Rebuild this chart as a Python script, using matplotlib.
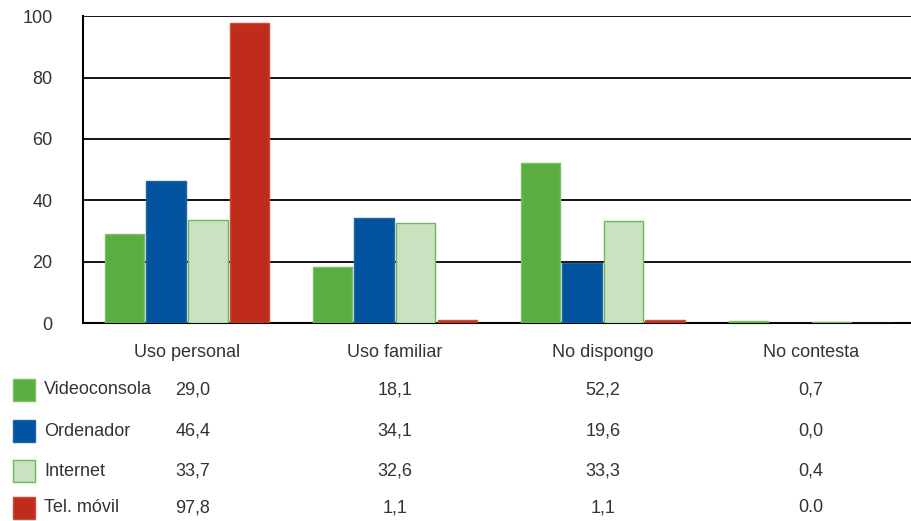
import numpy as np
import matplotlib.pyplot as plt
from matplotlib.patches import Rectangle

plt.rcParams['font.family'] = ['Liberation Sans', 'DejaVu Sans']

categories = ["Uso personal", "Uso familiar", "No dispongo", "No contesta"]
series_names = ["Videoconsola", "Ordenador", "Internet", "Tel. móvil"]
videoconsola = [29.0, 18.1, 52.2, 0.7]
ordenador = [46.4, 34.1, 19.6, 0.0]
internet = [33.7, 32.6, 33.3, 0.4]
movil = [97.8, 1.1, 1.1, 0.0]
table_text = [
    ["29,0", "18,1", "52,2", "0,7"],
    ["46,4", "34,1", "19,6", "0,0"],
    ["33,7", "32,6", "33,3", "0,4"],
    ["97,8", "1,1", "1,1", "0.0"],
]

faces = ["#5aae41", "#0153a0", "#cbe2c0", "#c02c1b"]
edges = ["#7cc065", "#1f64aa", "#6db85a", "#d04a3a"]
txt = "#333333"
fs = 13

fig = plt.figure(figsize=(9.12, 5.21), dpi=100)
ax = fig.add_axes([0.091, 0.38, 0.912, 0.589])

x = np.arange(len(categories))
w = 0.19
step = 0.2
for i, vals in enumerate([videoconsola, ordenador, internet, movil]):
    ax.bar(x + (i - 1.5) * step, vals, width=w, color=faces[i],
           edgecolor=edges[i], linewidth=1, zorder=3)

ax.set_xlim(-0.5, 3.5)
ax.set_ylim(0, 100)
ax.set_yticks([0, 20, 40, 60, 80, 100])
ax.yaxis.grid(True, color="black", linewidth=1.3, zorder=0)
ax.set_axisbelow(True)
ax.tick_params(axis="y", length=0, pad=22, labelsize=fs, labelcolor=txt)
ax.set_xticks(x)
ax.set_xticklabels(categories)
ax.tick_params(axis="x", length=0, pad=15, labelsize=fs, labelcolor=txt)
for s in ["top", "right"]:
    ax.spines[s].set_visible(False)
ax.spines["left"].set_linewidth(1.5)
ax.spines["bottom"].set_linewidth(1.5)

# data table below the chart
fig_w, fig_h = 912, 521
row_y = [390, 431, 471, 508]
for r, name in enumerate(series_names):
    yc = 1 - row_y[r] / fig_h
    fig.patches.append(Rectangle((13 / fig_w, yc - 11 / fig_h), 22 / fig_w, 22 / fig_h,
                                 transform=fig.transFigure, facecolor=faces[r],
                                 edgecolor=edges[r], linewidth=1))
    fig.text(44 / fig_w, yc, name, fontsize=fs, color=txt, va="center", ha="left")
    for c in range(len(categories)):
        xd = ax.transData.transform((c, 0))[0]
        xf = fig.transFigure.inverted().transform((xd, 0))[0]
        if c == 0:
            xf += 6 / fig_w
        fig.text(xf, yc, table_text[r][c], fontsize=fs, color=txt,
                 va="center", ha="center")

fig.savefig("out.png", dpi=100)
